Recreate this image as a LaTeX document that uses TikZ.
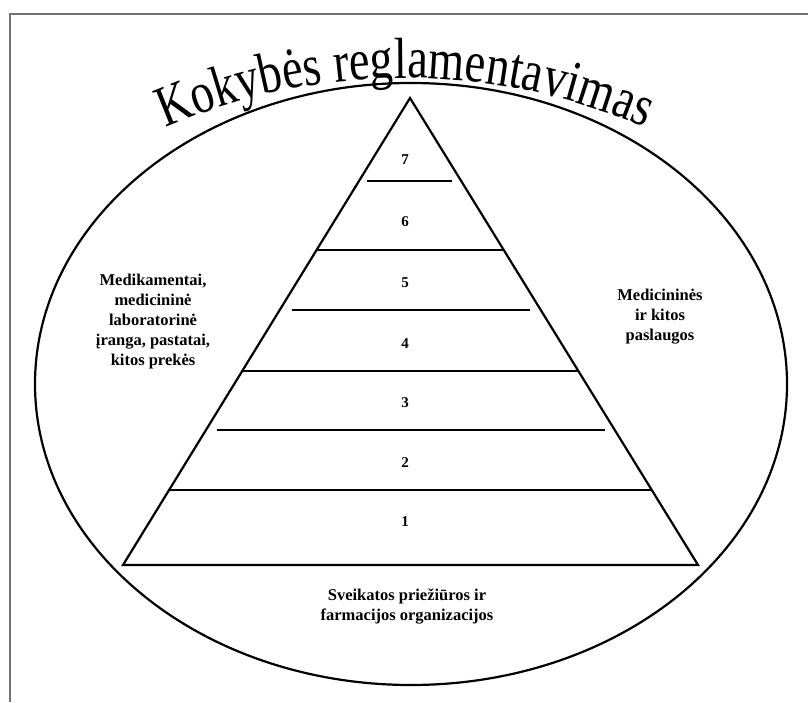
\documentclass[tikz,border=0pt]{standalone}
\usepackage{fontspec}
\setmainfont{Liberation Serif}
\newfontfamily\titlefont[FakeStretch=0.8]{Liberation Serif}
\newcommand\titlestyle{\titlefont\fontsize{58}{58}\selectfont}
\usetikzlibrary{calc,decorations.text}

\begin{document}
\begin{tikzpicture}[x=1pt,y=1pt,
    shelf/.style={line width=2pt},
    outline/.style={line width=2.2pt},
    lvl/.style={font=\bfseries\fontsize{15}{15}\selectfont},
    group/.style={align=center,font=\bfseries\fontsize{16.5}{20}\selectfont}]
  \useasboundingbox (0,0) rectangle (808,702);
  \draw[black!55,line width=1.2pt] (10,0) -- (10,688) -- (808,688);
  \draw[outline] (411,318) ellipse [x radius=376pt, y radius=301pt];
  % pyramid
  \coordinate (top) at (410,604);
  \coordinate (bl) at (123,137);
  \coordinate (br) at (698,137);
  \draw[outline,line join=miter] (bl) -- (top) -- (br) -- cycle;
  \foreach \t in {0.1606, 0.4154, 0.6745}
    \path[draw,shelf] ($(bl)!\t!(top)$) -- ($(br)!\t!(top)$);
  \foreach \ya/\xa/\xb in {521/367/452, 392/292/530, 272/217/605}
    \path[draw,shelf] (\xa,\ya) -- (\xb,\ya);
  \foreach \pos/\name in {{(405,542)/7}, {(405,480)/6}, {(405,419)/5}, {(405,358)/4}, {(405,299)/3}, {(405,239)/2}, {(405,180)/1}}
    \node[lvl] (n\name) at \pos {\name};
  % groups
  \node[group] (goods) at (153,380) {Medikamentai,\\medicininė\\laboratorinė\\įranga, pastatai,\\kitos prekės};
  \node[group] (services) at (660,385) {Medicininės\\ir kitos\\paslaugos};
  \node[group] (orgs) at (407,95) {Sveikatos priežiūros ir\\farmacijos organizacijos};
  % title
  \path[decorate,decoration={text along path,text align=center,
      text={|\titlestyle|Kokybės reglamentavimas}}]
    (405,23) ++(125:601pt) arc [start angle=125, end angle=55, radius=601pt];
\end{tikzpicture}
\end{document}
